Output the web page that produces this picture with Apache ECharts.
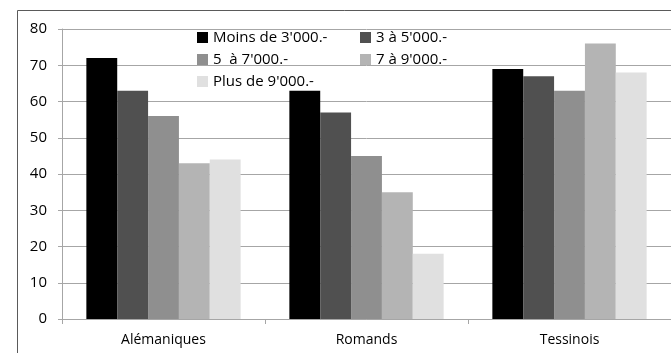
<!DOCTYPE html>
<html>
<head>
<meta charset="utf-8">
<script src="https://cdn.jsdelivr.net/npm/echarts@6/dist/echarts.min.js"></script>
<style>
  html, body { margin: 0; padding: 0; background: #ffffff; }
  #chart { width: 671px; height: 353px; }
</style>
</head>
<body>
<div id="chart"></div>
<script>
// Regions
const categories = ['Alémaniques', 'Romands', 'Tessinois'];

// Income brackets (series names)
const seriesNames = ["Moins de 3'000.-", "3 à 5'000.-", "5  à 7'000.-", "7 à 9'000.-", "Plus de 9'000.-"];

// Values per bracket, one entry per region
const moins3000 = [72, 63, 69];
const de3a5000 = [63, 57, 67];
const de5a7000 = [56, 45, 63];
const de7a9000 = [43, 35, 76];
const plus9000 = [44, 18, 68];

const yTicks = { min: 0, max: 80, interval: 10 };

const seriesValues = [moins3000, de3a5000, de5a7000, de7a9000, plus9000];
const seriesColors = ['#000000', '#505050', '#8f8f8f', '#b4b4b4', '#e0e0e0'];

const FONT = 'Open Sans';

const chart = echarts.init(document.getElementById('chart'), null, { renderer: 'canvas' });

const legendBase = {
  orient: 'vertical',
  padding: 0,
  itemWidth: 11,
  itemHeight: 11,
  itemGap: 7,
  icon: 'rect',
  selectedMode: false,
  textStyle: { fontFamily: FONT, fontSize: 15, color: '#000' }
};

chart.setOption({
  animation: false,
  backgroundColor: '#ffffff',
  graphic: [{
    type: 'rect',
    shape: { x: 17.5, y: 10.5, width: 700, height: 400 },
    style: { fill: 'none', stroke: '#5a5a5a', lineWidth: 1 },
    silent: true,
    z: -1
  }],
  legend: [
    Object.assign({}, legendBase, {
      left: 197, top: 30,
      data: [seriesNames[0], seriesNames[2], seriesNames[4]]
    }),
    Object.assign({}, legendBase, {
      left: 360, top: 30,
      data: [seriesNames[1], seriesNames[3]]
    })
  ],
  grid: { left: 62, top: 29, width: 610, height: 290, containLabel: false },
  xAxis: {
    type: 'category',
    data: categories,
    axisLine: { lineStyle: { color: '#a6a6a6', width: 1 } },
    axisTick: { show: true, length: 5, lineStyle: { color: '#a6a6a6' } },
    axisLabel: { fontFamily: FONT, fontSize: 14, color: '#000', margin: 14 },
    splitLine: { show: false }
  },
  yAxis: {
    type: 'value',
    min: yTicks.min,
    max: yTicks.max,
    interval: yTicks.interval,
    axisLine: { show: true, lineStyle: { color: '#a6a6a6', width: 1 } },
    axisTick: { show: true, length: 4, lineStyle: { color: '#a6a6a6' } },
    axisLabel: { fontFamily: FONT, fontSize: 15, color: '#000', margin: 15 },
    splitLine: { show: true, lineStyle: { color: '#a6a6a6', width: 1 } }
  },
  series: seriesNames.map((name, i) => ({
    name: name,
    type: 'bar',
    data: seriesValues[i],
    barGap: '0%',
    barCategoryGap: '24%',
    itemStyle: { color: seriesColors[i] }
  }))
});
</script>
</body>
</html>
